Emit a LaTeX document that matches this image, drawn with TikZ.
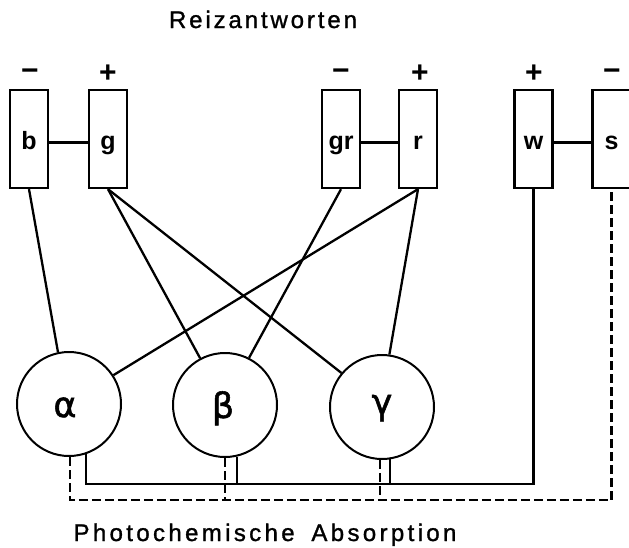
\documentclass[tikz,border=0pt]{standalone}
\usepackage{fontspec}
\setmainfont{Liberation Sans}
\newfontfamily\spaced[LetterSpace=12,FakeBold=1.2]{Liberation Sans}
\newfontfamily\widespaced[LetterSpace=14,FakeBold=1.2]{Liberation Sans}
\newfontfamily\greekfont[FakeBold=1.5]{DejaVu Sans}
\begin{document}
\begin{tikzpicture}[x=1pt,y=-1pt,
  cell/.style={draw, line width=2.3pt, minimum width=38pt, minimum height=98pt, inner sep=0pt},
  tag/.style={anchor=base, inner sep=0pt, font=\fontsize{25}{25}\selectfont\bfseries},
  sign/.style={anchor=base, inner sep=0pt, font=\fontsize{30}{30}\selectfont\bfseries},
  pigment/.style={draw, circle, line width=2pt, minimum size=104pt, inner sep=0pt},
  greek/.style={anchor=base, inner sep=0pt, font=\greekfont\fontsize{35}{35}\selectfont},
  caption/.style={anchor=base, inner sep=0pt, font=\spaced\fontsize{24}{24}\selectfont},
  widecaption/.style={anchor=base, inner sep=0pt, font=\widespaced\fontsize{24}{24}\selectfont},
  link/.style={line width=2.3pt},
  dlink/.style={line width=2.6pt, dash pattern=on 9pt off 4pt}]
\useasboundingbox[fill=white] (0,0) rectangle (629,547);

% titles
\node[caption] (top) at (263,28) {Reizantworten};
\node[widecaption] (bottom) at (265,541) {Photochemische\hspace{0.7em}Absorption};

% response cells
\node[cell] (b)  at (29,139)    {};
\node[cell] (g)  at (108,139)   {};
\node[cell] (gr) at (341,139)   {};
\node[cell] (r)  at (418,139)   {};
\node[cell] (w)  at (533.5,139) {};
\node[cell] (s)  at (611.5,139) {};

\node[tag] (bl)  at (29,149)    {b};
\node[tag] (gl)  at (108,149)   {g};
\node[tag] (grl) at (341,149)   {gr};
\node[tag] (rl)  at (418,149)   {r};
\node[tag] (wl)  at (533.5,149) {w};
\node[tag] (sl)  at (611.5,149) {s};

% signs of the responses
\node[sign] (bs)  at (30,80)    {−};
\node[sign] (gs)  at (108,82)   {+};
\node[sign] (grs) at (341,80)   {−};
\node[sign] (rs)  at (420,82)   {+};
\node[sign] (ws)  at (534,82)   {+};
\node[sign] (ss)  at (612,80)   {−};

% opponent couplings
\coordinate (hy) at (0,142.5);
\draw[link] (b.east |- hy) -- (g.west |- hy);
\draw[link] (gr.east |- hy) -- (r.west |- hy);
\draw[link] (w.east |- hy) -- (s.west |- hy);

% photopigments
\node[pigment] (alpha) at (69,404)  {};
\node[pigment] (beta)  at (225,405) {};
\node[pigment] (gamma) at (382,407) {};
\node[greek] (al) at (65,417)  {α};
\node[greek] (bl2) at (223,418) {β};
\node[greek] (gl2) at (382,414) {γ};

% pigment to cell connections
\draw[link] (b.south)  -- (alpha.102);
\draw[link] (g.south)  -- (beta.118);
\draw[link] (g.south)  -- (gamma.140);
\draw[link] (gr.south) -- (beta.63);
\draw[link] (r.south)  -- (alpha.33);
\draw[link] (r.south)  -- (gamma.82);

% summing lines below the pigments
\coordinate (sj) at (533.5,484);
\coordinate (dj) at (611.5,500);
\draw[link] (alpha.-71) |- (sj) -- (w.south);
\draw[link] (beta.-77) -- (beta.-77 |- sj);
\draw[link] (gamma.-81) -- (gamma.-81 |- sj);
\draw[dlink] (alpha.-89) |- (dj) -- (s.south);
\draw[dlink] (beta.-90) -- (beta.-90 |- dj);
\draw[dlink] (gamma.-92) -- (gamma.-92 |- dj);
\end{tikzpicture}
\end{document}
